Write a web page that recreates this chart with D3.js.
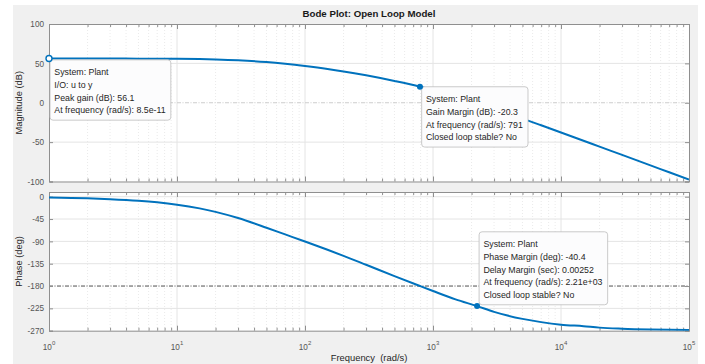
<!DOCTYPE html>
<html>
<head>
<meta charset="utf-8">
<script src="https://cdn.jsdelivr.net/npm/d3@7"></script>
<style>
  body { margin: 0; background: #ffffff; }
  svg { display: block; font-family: "Liberation Sans", Arial, Helvetica, sans-serif; }
</style>
</head>
<body>
<svg id="chart" width="705" height="364"></svg>
<script>
// Frequency response of the plant (open loop)
const freq = [1, 2, 3, 5, 7, 10, 15, 20, 30, 50, 70, 100, 150, 200, 300, 500, 791, 1000, 1500, 2210,
              3000, 5000, 7000, 10000, 15000, 20000, 30000, 50000, 70000, 100000];
const magDb = [56.1, 56.09, 56.07, 56.02, 55.95, 55.8, 55.46, 55.0, 53.95, 51.6, 49.4, 46.6, 42.9, 39.8, 34.8, 27.6, 20.3, 15.9, 7.8, 0,
               -7.6, -20.1, -28.6, -37.7, -48.2, -55.7, -66.2, -79.5, -88.3, -97.6];
const phaseDeg = [-1.6, -3.2, -4.9, -8.1, -11.3, -16.0, -23.5, -30.5, -43.0, -62.5, -76.0, -90.3, -107.0, -119.2, -137.2, -160.1, -180.0, -190.0, -206.8, -220.4,
                  -232.0, -246.2, -252.7, -257.8, -261.0, -263.8, -265.9, -267.5, -268.2, -268.8];

// Axis ticks
const freqTicks = [1, 10, 100, 1000, 10000, 100000];
const magTicks = [100, 50, 0, -50, -100];
const phaseTicks = [0, -45, -90, -135, -180, -225, -270];

// Characteristics reported in the data tips
const systemName = "Plant";
const peakGainDb = 56.1, peakFreq = 8.5e-11;
const gainMarginDb = -20.3, gainMarginFreq = 791;
const phaseMarginDeg = -40.4, delayMarginSec = 0.00252, phaseMarginFreq = 2210;
const closedLoopStable = "No";

const svg = d3.select("#chart");
const FONT = '"Liberation Sans", Arial, Helvetica, sans-serif';
const BLUE = "#0072BD";

// figure background
svg.append("rect").attr("x", 13).attr("y", 5).attr("width", 685).attr("height", 359).attr("fill", "#f0f0f0");

const x = d3.scaleLog().domain([1, 1e5]).range([49, 689]);
const yMag = d3.scaleLinear().domain([-100, 100]).range([181.5, 24]);
const yPh = d3.scaleLinear().domain([-270, 9.5]).range([330.7, 192]);

const decades = freqTicks;
const minorFreqs = x.ticks().filter(f => !decades.includes(f));

function panel(y, yTicks, refValue, refColor, refDash, clipId) {
  const [x0, x1] = x.range();
  const [yb, yt] = y.range();
  const g = svg.append("g");
  g.append("rect").attr("x", x0).attr("y", yt).attr("width", x1 - x0).attr("height", yb - yt).attr("fill", "#ffffff");

  // minor grid
  g.selectAll(".minor").data(minorFreqs).join("line")
    .attr("x1", d => x(d)).attr("x2", d => x(d)).attr("y1", yt).attr("y2", yb)
    .attr("stroke", "#e4e4e4").attr("stroke-width", 0.8).attr("stroke-dasharray", "1,2");
  // major grid
  g.selectAll(".vmajor").data(decades.slice(1, -1)).join("line")
    .attr("x1", d => x(d)).attr("x2", d => x(d)).attr("y1", yt).attr("y2", yb)
    .attr("stroke", "#e4e4e4").attr("stroke-width", 1);
  g.selectAll(".hmajor").data(yTicks.filter(v => v !== refValue && y(v) > yt + 1 && y(v) < yb - 1)).join("line")
    .attr("x1", x0).attr("x2", x1).attr("y1", d => y(d)).attr("y2", d => y(d))
    .attr("stroke", "#e4e4e4").attr("stroke-width", 1);
  // reference line
  g.append("line").attr("x1", x0).attr("x2", x1).attr("y1", y(refValue)).attr("y2", y(refValue))
    .attr("stroke", refColor).attr("stroke-width", 1).attr("stroke-dasharray", refDash);

  // axes: labelled left, plain right/top/bottom with inward ticks
  const axisColor = "#8f8f8f";
  const left = g.append("g").attr("transform", `translate(${x0},0)`)
    .call(d3.axisLeft(y).tickValues(yTicks).tickSize(-4).tickPadding(5).tickFormat(d3.format("d")));
  const right = g.append("g").attr("transform", `translate(${x1},0)`)
    .call(d3.axisRight(y).tickValues(yTicks).tickSize(-4).tickFormat(""));
  const allF = x.ticks();
  const top = g.append("g").attr("transform", `translate(0,${yt})`)
    .call(d3.axisTop(x).tickValues(allF).tickSize(-3).tickFormat(""));
  const bottom = g.append("g").attr("transform", `translate(0,${yb})`)
    .call(d3.axisBottom(x).tickValues(allF).tickSize(-3).tickFormat(""));
  [top, bottom].forEach(a => a.selectAll(".tick line")
    .attr("y2", d => (decades.includes(d) ? 5 : 3) * (a === top ? 1 : -1)));
  [left, right, top, bottom].forEach(a => {
    a.selectAll("path.domain").attr("stroke", axisColor);
    a.selectAll(".tick line").attr("stroke", axisColor);
    a.selectAll("text").attr("font-family", FONT).attr("font-size", 8.2).attr("fill", "#555555");
  });
  left.selectAll(".tick text").text(d => d < 0 ? "-" + Math.abs(d) : d);

  svg.append("clipPath").attr("id", clipId).append("rect")
    .attr("x", x0).attr("y", yt).attr("width", x1 - x0).attr("height", yb - yt);
  return g;
}

const gMag = panel(yMag, magTicks, 0, "#cdcdcd", "4,1.5,1,1.5", "clipMag");
const gPh = panel(yPh, phaseTicks, -180, "#4f4f4f", "4,1.5,1,1.5", "clipPh");

// response curves
const magLine = d3.line().x(d => x(d[0])).y(d => yMag(d[1])).curve(d3.curveMonotoneX);
const phLine = d3.line().x(d => x(d[0])).y(d => yPh(d[1])).curve(d3.curveMonotoneX);
svg.append("path").datum(freq.map((f, i) => [f, magDb[i]]))
  .attr("d", magLine).attr("fill", "none").attr("stroke", BLUE).attr("stroke-width", 2)
  .attr("clip-path", "url(#clipMag)");
svg.append("path").datum(freq.map((f, i) => [f, phaseDeg[i]]))
  .attr("d", phLine).attr("fill", "none").attr("stroke", BLUE).attr("stroke-width", 2)
  .attr("clip-path", "url(#clipPh)");

// x tick labels (powers of ten)
const xl = svg.append("g");
freqTicks.forEach(f => {
  const t = xl.append("text").attr("x", x(f)).attr("y", 349.5).attr("text-anchor", "middle")
    .attr("font-family", FONT).attr("font-size", 8.2).attr("fill", "#555555");
  t.append("tspan").text("10");
  t.append("tspan").attr("font-size", 6).attr("dy", -4.5).text(Math.round(Math.log10(f)));
});

// titles and axis labels
svg.append("text").attr("x", 369).attr("y", 16.8).attr("text-anchor", "middle")
  .attr("font-family", FONT).attr("font-size", 9.7).attr("font-weight", "bold").attr("fill", "#1a1a1a")
  .text("Bode Plot: Open Loop Model");
svg.append("text").attr("x", 369).attr("y", 360.5).attr("text-anchor", "middle")
  .attr("font-family", FONT).attr("font-size", 9.4).attr("fill", "#262626").attr("xml:space", "preserve")
  .style("white-space", "pre").text("Frequency  (rad/s)");
svg.append("text").attr("transform", `translate(22.3,${(yMag.range()[0] + yMag.range()[1]) / 2}) rotate(-90)`)
  .attr("text-anchor", "middle").attr("font-family", FONT).attr("font-size", 9.3).attr("fill", "#262626")
  .text("Magnitude (dB)");
svg.append("text").attr("transform", `translate(22.3,${(yPh.range()[0] + yPh.range()[1]) / 2}) rotate(-90)`)
  .attr("text-anchor", "middle").attr("font-family", FONT).attr("font-size", 9.3).attr("fill", "#262626")
  .text("Phase (deg)");

// data tips
function dataTip(px, py, lines, anchor) {
  const g = svg.append("g");
  const rect = g.append("rect").attr("rx", 3).attr("ry", 3)
    .attr("fill", "#fcfcfd").attr("stroke", "#bdbdbd").attr("stroke-width", 0.8);
  let maxW = 0;
  const lineH = 12.7;
  lines.forEach((s, i) => {
    const t = g.append("text").attr("font-family", FONT).attr("font-size", 8.8).attr("fill", "#262626")
      .attr("x", 4.3).attr("y", 15.5 + i * lineH).text(s);
    maxW = Math.max(maxW, t.node().getComputedTextLength());
  });
  const w = maxW + 9.5, h = lines.length * lineH + 9.5;
  rect.attr("width", w).attr("height", h);
  const bx = px + anchor[0];
  const by = anchor[1] >= 0 ? py + anchor[1] : py - h + anchor[1];
  g.attr("transform", `translate(${bx},${by})`);
}

const peakX = x(Math.max(peakFreq, x.domain()[0]));
const gmX = x(gainMarginFreq), gmY = yMag(-gainMarginDb);
const pmX = x(phaseMarginFreq), pmY = yPh(-180 + phaseMarginDeg);

dataTip(peakX, yMag(peakGainDb), [
  `System: ${systemName}`, "I/O: u to y",
  `Peak gain (dB): ${peakGainDb}`, `At frequency (rad/s): ${peakFreq.toExponential(1)}`
], [1, 1.3]);
dataTip(gmX, gmY, [
  `System: ${systemName}`, `Gain Margin (dB): ${gainMarginDb}`,
  `At frequency (rad/s): ${gainMarginFreq}`, `Closed loop stable? ${closedLoopStable}`
], [1.7, 0]);
dataTip(pmX, pmY, [
  `System: ${systemName}`, `Phase Margin (deg): ${phaseMarginDeg}`,
  `Delay Margin (sec): ${delayMarginSec}`, `At frequency (rad/s): 2.21e+03`,
  `Closed loop stable? ${closedLoopStable}`
], [2, -1.3]);

// markers
svg.append("circle").attr("cx", peakX).attr("cy", yMag(peakGainDb)).attr("r", 3)
  .attr("fill", "#ffffff").attr("stroke", BLUE).attr("stroke-width", 1.4);
svg.append("circle").attr("cx", gmX).attr("cy", gmY).attr("r", 3).attr("fill", BLUE);
svg.append("circle").attr("cx", pmX).attr("cy", pmY).attr("r", 3).attr("fill", BLUE);
</script>
</body>
</html>
